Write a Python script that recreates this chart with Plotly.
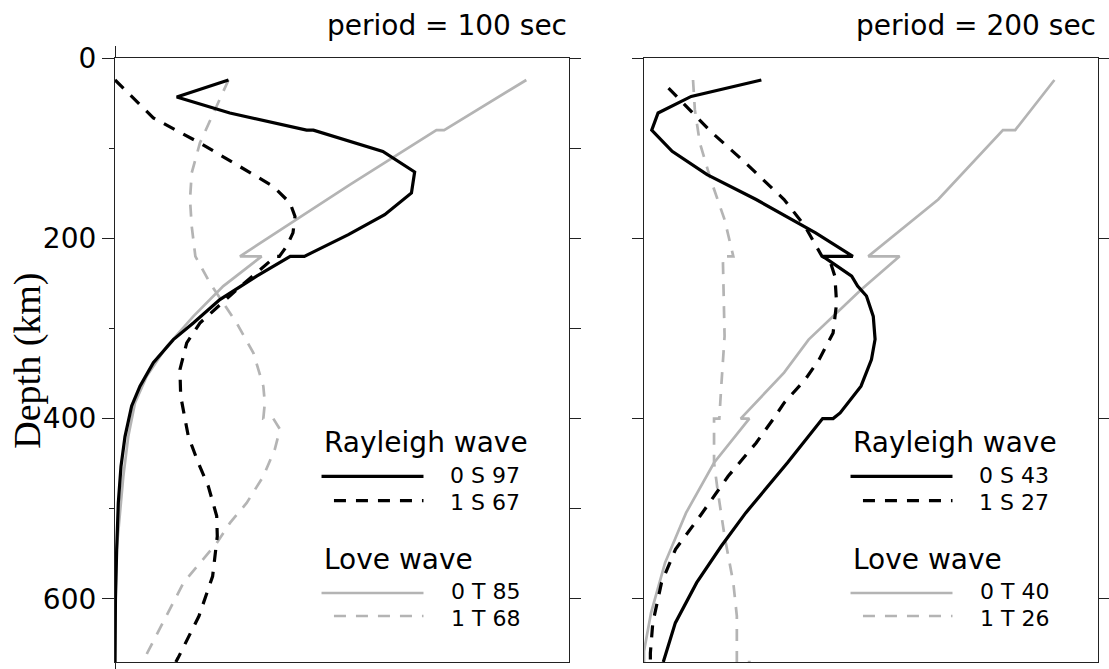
import plotly.graph_objects as go

# ---------------------------------------------------------------
# Depth sensitivity kernels (depth in km, amplitude in arbitrary
# units, 0 = left frame, 1 = right frame)
# ---------------------------------------------------------------

# period = 100 sec
ray0_100_depth = [24.4, 43.3, 61, 80, 80, 103.6, 126.4, 149.7, 173.8, 196, 220, 220,
                  242, 268, 294, 312.4, 338, 364, 386, 420, 453, 493.5, 545, 600, 670]
ray0_100_amp = [0.250, 0.136, 0.253, 0.422, 0.437, 0.590, 0.660, 0.653, 0.594, 0.514, 0.417, 0.386,
                0.312, 0.231, 0.1725, 0.1285, 0.0844, 0.055, 0.0367, 0.022, 0.0132, 0.0073,
                0.0037, 0.001, 0.0]

ray1_100_depth = [24.4, 66.5, 94.3, 120, 142.4, 160.8, 175.7, 194, 209, 220, 220, 257, 273.6,
                  294, 316, 345.7, 375, 399, 419.7, 449, 475, 508, 530.5, 575, 619, 665.4, 670]
ray1_100_amp = [0.0, 0.0844, 0.187, 0.275, 0.3487, 0.3855, 0.3965, 0.392, 0.378, 0.362, 0.354,
                0.268, 0.231, 0.187, 0.158, 0.143, 0.1447, 0.154, 0.1615, 0.1835, 0.2055, 0.224,
                0.2253, 0.215, 0.185, 0.139, 0.134]

love0_100_depth = [24.4, 80, 80, 140.5, 220, 220, 253, 286.6, 320, 353, 382.6, 419.7, 464, 508,
                   545, 600, 670]
love0_100_amp = [0.906, 0.725, 0.708, 0.5176, 0.2753, 0.323, 0.2386, 0.1725, 0.1138, 0.0698,
                 0.044, 0.0293, 0.0183, 0.0095, 0.0037, 0.001, 0.0]

love1_100_depth = [24.4, 61, 94.3, 127.5, 157, 186.8, 220, 249.5, 294, 327, 364, 382.6, 400,
                   400, 412, 434, 464, 493.5, 515.7, 538, 582, 660, 670]
love1_100_amp = [0.250, 0.2166, 0.187, 0.169, 0.1652, 0.169, 0.177, 0.209, 0.268, 0.3047, 0.3267,
                 0.330, 0.3267, 0.3487, 0.3634, 0.352, 0.3267, 0.290, 0.2533, 0.224, 0.151,
                 0.071, 0.063]

# period = 200 sec
ray0_200_depth = [24.4, 42.6, 61, 80, 103.6, 129.4, 157, 172, 194, 220, 220, 242, 253, 264,
                  286.6, 312, 334.6, 364, 393.7, 400, 400, 449, 504.6, 541.6, 582, 626.6, 670]
ray0_200_amp = [0.2585, 0.104, 0.031, 0.017, 0.062, 0.139, 0.247, 0.300, 0.378, 0.460, 0.394,
                0.4575, 0.4705, 0.490, 0.505, 0.509, 0.501, 0.478, 0.432, 0.4165, 0.3934, 0.316,
                0.224, 0.170, 0.116, 0.069, 0.0425]

ray1_200_depth = [33.3, 62.9, 81.4, 112.8, 157, 186.8, 203.4, 220, 223.7, 242, 271.7, 305,
                  334.6, 356.8, 382.6, 400, 427, 464, 508, 545, 582, 626.6, 660, 670]
ray1_200_amp = [0.054, 0.112, 0.1466, 0.216, 0.3086, 0.3548, 0.373, 0.392, 0.4087, 0.4204,
                0.4242, 0.4165, 0.3856, 0.3548, 0.3086, 0.2854, 0.2469, 0.1852, 0.1235, 0.0694,
                0.0386, 0.0194, 0.014, 0.014]

love0_200_depth = [24.4, 80, 80, 157, 220, 220, 257, 312.4, 349, 400, 400, 449, 504.6, 560,
                   615.5, 658, 670]
love0_200_amp = [0.904, 0.8176, 0.7906, 0.648, 0.494, 0.563, 0.478, 0.3626, 0.3086, 0.213,
                 0.232, 0.1543, 0.0926, 0.0463, 0.0155, 0.0, 0.0]

love1_200_depth = [24.4, 57.3, 94.3, 135, 179.3, 220, 220, 308.7, 368, 400, 400, 449, 478.8,
                   530.5, 582, 619, 670, 670]
love1_200_amp = [0.108, 0.112, 0.123, 0.147, 0.1775, 0.1967, 0.1736, 0.1775, 0.1697, 0.1659,
                 0.1543, 0.1543, 0.162, 0.1775, 0.1967, 0.2045, 0.2045, 0.235]

periods = ["period = 100 sec", "period = 200 sec"]
rayleigh_labels = [["0 S 97", "1 S 67"], ["0 S 43", "1 S 27"]]
love_labels = [["0 T 85", "1 T 68"], ["0 T 40", "1 T 26"]]
depth_ticks = [0, 200, 400, 600]
depth_range = [670, 0]

BLACK = "#000000"
GRAY = "#b4b4b4"
FRAME = "#222222"
DASH = "12px,10px"
SANS = "DejaVu Sans"
SERIF = "Liberation Serif"
W_BLACK = 3.2
W_GRAY = 2.7

fig = go.Figure()


def kernel(depth, amp, color, width, dash, name, xa, ya):
    fig.add_trace(go.Scatter(
        x=amp, y=depth, mode="lines", name=name,
        line=dict(color=color, width=width, dash=dash),
        xaxis=xa, yaxis=ya, hoverinfo="skip", showlegend=False,
    ))


# left panel
kernel(love0_100_depth, love0_100_amp, GRAY, W_GRAY, "solid", love_labels[0][0], "x", "y")
kernel(love1_100_depth, love1_100_amp, GRAY, W_GRAY, DASH, love_labels[0][1], "x", "y")
kernel(ray1_100_depth, ray1_100_amp, BLACK, W_BLACK, DASH, rayleigh_labels[0][1], "x", "y")
kernel(ray0_100_depth, ray0_100_amp, BLACK, W_BLACK, "solid", rayleigh_labels[0][0], "x", "y")

# right panel
kernel(love0_200_depth, love0_200_amp, GRAY, W_GRAY, "solid", love_labels[1][0], "x2", "y2")
kernel(love1_200_depth, love1_200_amp, GRAY, W_GRAY, DASH, love_labels[1][1], "x2", "y2")
kernel(ray1_200_depth, ray1_200_amp, BLACK, W_BLACK, DASH, rayleigh_labels[1][1], "x2", "y2")
kernel(ray0_200_depth, ray0_200_amp, BLACK, W_BLACK, "solid", rayleigh_labels[1][0], "x2", "y2")

# right-hand tick row of the left panel (every 100 km)
fig.add_trace(go.Scatter(x=[None], y=[None], xaxis="x", yaxis="y3",
                         showlegend=False, hoverinfo="skip"))

axis_common = dict(showgrid=False, zeroline=False, linecolor=FRAME, linewidth=1.2,
                   tickcolor=FRAME, tickwidth=1.2, automargin=False)

fig.update_layout(
    width=1109, height=669,
    margin=dict(l=115, r=11, t=58, b=7, autoexpand=False),
    paper_bgcolor="white", plot_bgcolor="white",
    showlegend=False,
    font=dict(family=SANS, size=28, color="black"),
    xaxis=dict(domain=[0, 0.46185], range=[0, 1], anchor="y",
               showline=True, mirror="ticks", ticks="outside", ticklen=11,
               tickvals=[0], showticklabels=False, **axis_common),
    xaxis2=dict(domain=[0.53815, 1], range=[0, 1], anchor="y2",
                showline=True, mirror=True, ticks="", showticklabels=False, **axis_common),
    yaxis=dict(domain=[0, 1], range=depth_range, anchor="x",
               showline=True, mirror=True, ticks="outside", ticklen=12,
               tickvals=depth_ticks, ticktext=[str(v) for v in depth_ticks],
               tickfont=dict(family=SANS, size=28, color="black"),
               minor=dict(tickvals=[100, 300, 500], ticks="outside", ticklen=5,
                          tickcolor=FRAME, tickwidth=1.2),
               **axis_common),
    yaxis3=dict(range=depth_range, overlaying="y", anchor="x", side="right",
                showline=False, ticks="outside", ticklen=11,
                tickvals=[0, 100, 200, 300, 400, 500, 600], showticklabels=False,
                **axis_common),
    yaxis2=dict(domain=[0, 1], range=depth_range, anchor="x2",
                showline=True, mirror="ticks", ticks="outside", ticklen=11,
                tickvals=depth_ticks, showticklabels=False, **axis_common),
)

annotations = []
shapes = []

# y-axis title
annotations.append(dict(
    text="Depth (km)", xref="paper", yref="paper", x=-0.0885, y=0.4988,
    xanchor="center", yanchor="middle", textangle=-90, showarrow=False,
    font=dict(family=SERIF, size=38, color="black"),
))

# legend layout inside each panel (axis-domain fractions)
LX = 0.4549            # left edge of headers / solid samples
LX_DASH = 0.4823       # left edge of dashed samples
LX_END = 0.6795        # right edge of samples
TX = 0.8938            # right edge of entry labels
ROWS = dict(head1=0.3626, line1=0.3073, text1=0.3080, line2=0.2672, text2=0.2635,
            head2=0.1694, line3=0.1142, text3=0.1160, line4=0.0762, text4=0.0720)

for i, (xa, ya) in enumerate([("x", "y"), ("x2", "y2")]):
    xr, yr = f"{xa} domain", f"{ya} domain"
    # panel title
    annotations.append(dict(text=periods[i], xref=xr, yref=yr, x=1.0, y=1.0535,
                            xanchor="right", yanchor="middle", showarrow=False,
                            font=dict(family=SANS, size=28, color="black")))
    # headers
    for key, txt in (("head1", "Rayleigh wave"), ("head2", "Love wave")):
        annotations.append(dict(text=txt, xref=xr, yref=yr, x=LX, y=ROWS[key],
                                xanchor="left", yanchor="middle", showarrow=False,
                                font=dict(family=SANS, size=28, color="black")))
    entries = [
        ("line1", "text1", rayleigh_labels[i][0], BLACK, W_BLACK, "solid", LX),
        ("line2", "text2", rayleigh_labels[i][1], BLACK, W_BLACK, DASH, LX_DASH),
        ("line3", "text3", love_labels[i][0], GRAY, W_GRAY, "solid", LX),
        ("line4", "text4", love_labels[i][1], GRAY, W_GRAY, DASH, LX_DASH),
    ]
    for lk, tk, txt, col, wid, dash, x0 in entries:
        shapes.append(dict(type="line", xref=xr, yref=yr, x0=x0, x1=LX_END,
                           y0=ROWS[lk], y1=ROWS[lk],
                           line=dict(color=col, width=wid, dash=dash)))
        annotations.append(dict(text=txt, xref=xr, yref=yr, x=TX, y=ROWS[tk],
                                xanchor="right", yanchor="middle", showarrow=False,
                                borderpad=0,
                                font=dict(family=SANS, size=22, color="black")))

fig.update_layout(annotations=annotations, shapes=shapes)

fig.write_html("out.html")
